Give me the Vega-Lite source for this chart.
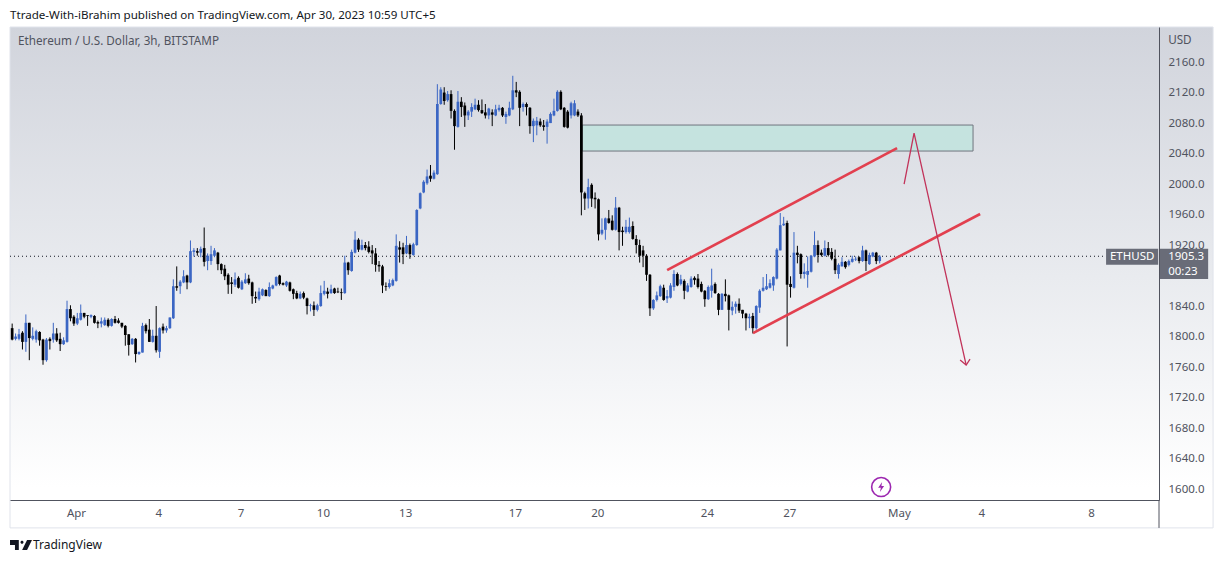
{"$schema":"https://vega.github.io/schema/vega-lite/v6.json","width":1149,"height":473,"autosize":{"type":"none"},"padding":{"left":10,"top":27,"right":64,"bottom":63},"background":"#ffffff",
"title":{"text":"Ttrade-With-iBrahim published on TradingView.com, Apr 30, 2023 10:59 UTC+5","anchor":"start","frame":"group","offset":-1,"baseline":"middle","fontSize":11.6,"font":"Noto Sans","fontWeight":"normal","color":"#131722"},
"config":{"view":{"stroke":null},"font":"Noto Sans"},
"datasets":{"candles":[
{"t":"2023-03-29T15:00Z","o":1811,"h":1817,"l":1795,"c":1796},{"t":"2023-03-29T18:00Z","o":1797,"h":1804,"l":1795,"c":1800},{"t":"2023-03-29T21:00Z","o":1797,"h":1810,"l":1795,"c":1803},
{"t":"2023-03-30T00:00Z","o":1805,"h":1807,"l":1783,"c":1793},{"t":"2023-03-30T03:00Z","o":1793,"h":1829,"l":1780,"c":1818},{"t":"2023-03-30T06:00Z","o":1818,"h":1818,"l":1769,"c":1798},{"t":"2023-03-30T09:00Z","o":1797,"h":1812,"l":1795,"c":1801},{"t":"2023-03-30T12:00Z","o":1796,"h":1809,"l":1792,"c":1807},{"t":"2023-03-30T15:00Z","o":1806,"h":1807,"l":1788,"c":1795},{"t":"2023-03-30T18:00Z","o":1796,"h":1797,"l":1763,"c":1769},{"t":"2023-03-30T21:00Z","o":1769,"h":1798,"l":1767,"c":1796},
{"t":"2023-03-31T00:00Z","o":1797,"h":1799,"l":1783,"c":1794},{"t":"2023-03-31T03:00Z","o":1796,"h":1818,"l":1792,"c":1804},{"t":"2023-03-31T06:00Z","o":1804,"h":1811,"l":1793,"c":1795},{"t":"2023-03-31T09:00Z","o":1797,"h":1805,"l":1781,"c":1790},{"t":"2023-03-31T12:00Z","o":1790,"h":1799,"l":1789,"c":1795},{"t":"2023-03-31T15:00Z","o":1793,"h":1847,"l":1792,"c":1836},{"t":"2023-03-31T18:00Z","o":1836,"h":1841,"l":1820,"c":1824},{"t":"2023-03-31T21:00Z","o":1826,"h":1828,"l":1814,"c":1817},
{"t":"2023-04-01T00:00Z","o":1817,"h":1831,"l":1815,"c":1824},{"t":"2023-04-01T03:00Z","o":1822,"h":1842,"l":1821,"c":1831},{"t":"2023-04-01T06:00Z","o":1831,"h":1831,"l":1824,"c":1826},{"t":"2023-04-01T09:00Z","o":1828,"h":1828,"l":1814,"c":1827},{"t":"2023-04-01T12:00Z","o":1826,"h":1829,"l":1824,"c":1828},{"t":"2023-04-01T15:00Z","o":1827,"h":1828,"l":1817,"c":1818},{"t":"2023-04-01T18:00Z","o":1819,"h":1821,"l":1811,"c":1817},{"t":"2023-04-01T21:00Z","o":1817,"h":1825,"l":1812,"c":1820},
{"t":"2023-04-02T00:00Z","o":1815,"h":1825,"l":1814,"c":1822},{"t":"2023-04-02T03:00Z","o":1822,"h":1824,"l":1812,"c":1814},{"t":"2023-04-02T06:00Z","o":1814,"h":1824,"l":1813,"c":1823},{"t":"2023-04-02T09:00Z","o":1823,"h":1827,"l":1817,"c":1818},{"t":"2023-04-02T12:00Z","o":1821,"h":1824,"l":1817,"c":1818},{"t":"2023-04-02T15:00Z","o":1818,"h":1818,"l":1811,"c":1813},{"t":"2023-04-02T18:00Z","o":1814,"h":1815,"l":1788,"c":1802},{"t":"2023-04-02T21:00Z","o":1803,"h":1803,"l":1775,"c":1789},
{"t":"2023-04-03T00:00Z","o":1790,"h":1798,"l":1789,"c":1797},{"t":"2023-04-03T03:00Z","o":1797,"h":1798,"l":1766,"c":1777},{"t":"2023-04-03T06:00Z","o":1777,"h":1780,"l":1776,"c":1780},{"t":"2023-04-03T09:00Z","o":1779,"h":1818,"l":1779,"c":1814},{"t":"2023-04-03T12:00Z","o":1815,"h":1817,"l":1804,"c":1807},{"t":"2023-04-03T15:00Z","o":1809,"h":1823,"l":1793,"c":1793},{"t":"2023-04-03T18:00Z","o":1793,"h":1809,"l":1792,"c":1801},{"t":"2023-04-03T21:00Z","o":1801,"h":1840,"l":1779,"c":1782},
{"t":"2023-04-04T00:00Z","o":1780,"h":1812,"l":1772,"c":1811},{"t":"2023-04-04T03:00Z","o":1813,"h":1817,"l":1804,"c":1808},{"t":"2023-04-04T06:00Z","o":1808,"h":1814,"l":1805,"c":1811},{"t":"2023-04-04T09:00Z","o":1811,"h":1825,"l":1810,"c":1825},{"t":"2023-04-04T12:00Z","o":1824,"h":1875,"l":1823,"c":1866},{"t":"2023-04-04T15:00Z","o":1866,"h":1892,"l":1860,"c":1864},{"t":"2023-04-04T18:00Z","o":1866,"h":1874,"l":1856,"c":1872},{"t":"2023-04-04T21:00Z","o":1871,"h":1887,"l":1870,"c":1879},
{"t":"2023-04-05T00:00Z","o":1880,"h":1881,"l":1862,"c":1871},{"t":"2023-04-05T03:00Z","o":1871,"h":1926,"l":1870,"c":1912},{"t":"2023-04-05T06:00Z","o":1911,"h":1916,"l":1905,"c":1913},{"t":"2023-04-05T09:00Z","o":1912,"h":1916,"l":1906,"c":1910},{"t":"2023-04-05T12:00Z","o":1910,"h":1918,"l":1904,"c":1915},{"t":"2023-04-05T15:00Z","o":1916,"h":1943,"l":1892,"c":1898},{"t":"2023-04-05T18:00Z","o":1899,"h":1909,"l":1887,"c":1906},{"t":"2023-04-05T21:00Z","o":1899,"h":1919,"l":1894,"c":1908},
{"t":"2023-04-06T00:00Z","o":1906,"h":1916,"l":1904,"c":1913},{"t":"2023-04-06T03:00Z","o":1910,"h":1911,"l":1887,"c":1895},{"t":"2023-04-06T06:00Z","o":1895,"h":1896,"l":1882,"c":1887},{"t":"2023-04-06T09:00Z","o":1889,"h":1894,"l":1874,"c":1879},{"t":"2023-04-06T12:00Z","o":1881,"h":1883,"l":1856,"c":1868},{"t":"2023-04-06T15:00Z","o":1871,"h":1878,"l":1856,"c":1869},{"t":"2023-04-06T18:00Z","o":1868,"h":1884,"l":1865,"c":1875},{"t":"2023-04-06T21:00Z","o":1877,"h":1879,"l":1863,"c":1864},
{"t":"2023-04-07T00:00Z","o":1862,"h":1874,"l":1861,"c":1872},{"t":"2023-04-07T03:00Z","o":1870,"h":1883,"l":1869,"c":1875},{"t":"2023-04-07T06:00Z","o":1876,"h":1881,"l":1868,"c":1870},{"t":"2023-04-07T09:00Z","o":1871,"h":1872,"l":1843,"c":1853},{"t":"2023-04-07T12:00Z","o":1852,"h":1859,"l":1844,"c":1850},{"t":"2023-04-07T15:00Z","o":1849,"h":1864,"l":1847,"c":1859},{"t":"2023-04-07T18:00Z","o":1854,"h":1863,"l":1853,"c":1862},{"t":"2023-04-07T21:00Z","o":1861,"h":1862,"l":1853,"c":1853},
{"t":"2023-04-08T00:00Z","o":1853,"h":1871,"l":1852,"c":1865},{"t":"2023-04-08T03:00Z","o":1863,"h":1868,"l":1862,"c":1867},{"t":"2023-04-08T06:00Z","o":1867,"h":1879,"l":1866,"c":1878},{"t":"2023-04-08T09:00Z","o":1880,"h":1881,"l":1867,"c":1869},{"t":"2023-04-08T12:00Z","o":1870,"h":1871,"l":1867,"c":1868},{"t":"2023-04-08T15:00Z","o":1867,"h":1873,"l":1865,"c":1872},{"t":"2023-04-08T18:00Z","o":1871,"h":1872,"l":1859,"c":1860},{"t":"2023-04-08T21:00Z","o":1862,"h":1863,"l":1849,"c":1856},
{"t":"2023-04-09T00:00Z","o":1857,"h":1860,"l":1849,"c":1850},{"t":"2023-04-09T03:00Z","o":1850,"h":1859,"l":1849,"c":1856},{"t":"2023-04-09T06:00Z","o":1857,"h":1859,"l":1849,"c":1851},{"t":"2023-04-09T09:00Z","o":1850,"h":1851,"l":1829,"c":1840},{"t":"2023-04-09T12:00Z","o":1840,"h":1843,"l":1833,"c":1841},{"t":"2023-04-09T15:00Z","o":1841,"h":1846,"l":1827,"c":1835},{"t":"2023-04-09T18:00Z","o":1835,"h":1843,"l":1833,"c":1841},{"t":"2023-04-09T21:00Z","o":1840,"h":1867,"l":1839,"c":1857},
{"t":"2023-04-10T00:00Z","o":1856,"h":1873,"l":1854,"c":1860},{"t":"2023-04-10T03:00Z","o":1859,"h":1864,"l":1850,"c":1856},{"t":"2023-04-10T06:00Z","o":1857,"h":1868,"l":1856,"c":1862},{"t":"2023-04-10T09:00Z","o":1863,"h":1864,"l":1856,"c":1857},{"t":"2023-04-10T12:00Z","o":1859,"h":1864,"l":1857,"c":1858},{"t":"2023-04-10T15:00Z","o":1858,"h":1863,"l":1848,"c":1857},{"t":"2023-04-10T18:00Z","o":1857,"h":1906,"l":1856,"c":1897},{"t":"2023-04-10T21:00Z","o":1897,"h":1898,"l":1881,"c":1887},
{"t":"2023-04-11T00:00Z","o":1886,"h":1914,"l":1885,"c":1911},{"t":"2023-04-11T03:00Z","o":1910,"h":1938,"l":1909,"c":1927},{"t":"2023-04-11T06:00Z","o":1927,"h":1929,"l":1911,"c":1914},{"t":"2023-04-11T09:00Z","o":1914,"h":1927,"l":1913,"c":1920},{"t":"2023-04-11T12:00Z","o":1920,"h":1924,"l":1913,"c":1916},{"t":"2023-04-11T15:00Z","o":1918,"h":1925,"l":1909,"c":1911},{"t":"2023-04-11T18:00Z","o":1913,"h":1920,"l":1895,"c":1909},{"t":"2023-04-11T21:00Z","o":1909,"h":1916,"l":1885,"c":1894},
{"t":"2023-04-12T00:00Z","o":1894,"h":1899,"l":1885,"c":1892},{"t":"2023-04-12T03:00Z","o":1892,"h":1894,"l":1857,"c":1867},{"t":"2023-04-12T06:00Z","o":1866,"h":1871,"l":1860,"c":1865},{"t":"2023-04-12T09:00Z","o":1865,"h":1875,"l":1863,"c":1870},{"t":"2023-04-12T12:00Z","o":1867,"h":1876,"l":1866,"c":1874},{"t":"2023-04-12T15:00Z","o":1873,"h":1934,"l":1872,"c":1919},{"t":"2023-04-12T18:00Z","o":1917,"h":1925,"l":1897,"c":1914},{"t":"2023-04-12T21:00Z","o":1917,"h":1923,"l":1895,"c":1908},
{"t":"2023-04-13T00:00Z","o":1909,"h":1932,"l":1908,"c":1920},{"t":"2023-04-13T03:00Z","o":1920,"h":1922,"l":1902,"c":1908},{"t":"2023-04-13T06:00Z","o":1907,"h":1923,"l":1906,"c":1921},{"t":"2023-04-13T09:00Z","o":1920,"h":1967,"l":1919,"c":1966},{"t":"2023-04-13T12:00Z","o":1968,"h":1989,"l":1967,"c":1988},{"t":"2023-04-13T15:00Z","o":1989,"h":2005,"l":1988,"c":2003},{"t":"2023-04-13T18:00Z","o":2001,"h":2019,"l":1999,"c":2010},{"t":"2023-04-13T21:00Z","o":2011,"h":2025,"l":2003,"c":2007},
{"t":"2023-04-14T00:00Z","o":2007,"h":2018,"l":2006,"c":2015},{"t":"2023-04-14T03:00Z","o":2013,"h":2131,"l":2012,"c":2105},{"t":"2023-04-14T06:00Z","o":2105,"h":2127,"l":2104,"c":2124},{"t":"2023-04-14T09:00Z","o":2120,"h":2127,"l":2104,"c":2109},{"t":"2023-04-14T12:00Z","o":2110,"h":2122,"l":2108,"c":2118},{"t":"2023-04-14T15:00Z","o":2118,"h":2123,"l":2086,"c":2096},{"t":"2023-04-14T18:00Z","o":2096,"h":2098,"l":2045,"c":2076},{"t":"2023-04-14T21:00Z","o":2075,"h":2122,"l":2074,"c":2108},
{"t":"2023-04-15T00:00Z","o":2108,"h":2114,"l":2088,"c":2101},{"t":"2023-04-15T03:00Z","o":2103,"h":2107,"l":2075,"c":2090},{"t":"2023-04-15T06:00Z","o":2090,"h":2097,"l":2084,"c":2095},{"t":"2023-04-15T09:00Z","o":2095,"h":2106,"l":2088,"c":2101},{"t":"2023-04-15T12:00Z","o":2098,"h":2112,"l":2097,"c":2104},{"t":"2023-04-15T15:00Z","o":2104,"h":2110,"l":2095,"c":2097},{"t":"2023-04-15T18:00Z","o":2097,"h":2111,"l":2092,"c":2093},{"t":"2023-04-15T21:00Z","o":2094,"h":2105,"l":2086,"c":2090},
{"t":"2023-04-16T00:00Z","o":2090,"h":2100,"l":2085,"c":2099},{"t":"2023-04-16T03:00Z","o":2094,"h":2098,"l":2076,"c":2091},{"t":"2023-04-16T06:00Z","o":2090,"h":2104,"l":2089,"c":2098},{"t":"2023-04-16T09:00Z","o":2097,"h":2104,"l":2095,"c":2100},{"t":"2023-04-16T12:00Z","o":2100,"h":2101,"l":2088,"c":2090},{"t":"2023-04-16T15:00Z","o":2088,"h":2095,"l":2079,"c":2092},{"t":"2023-04-16T18:00Z","o":2090,"h":2108,"l":2089,"c":2100},{"t":"2023-04-16T21:00Z","o":2098,"h":2142,"l":2097,"c":2123},
{"t":"2023-04-17T00:00Z","o":2123,"h":2134,"l":2114,"c":2120},{"t":"2023-04-17T03:00Z","o":2121,"h":2123,"l":2076,"c":2100},{"t":"2023-04-17T06:00Z","o":2101,"h":2107,"l":2095,"c":2105},{"t":"2023-04-17T09:00Z","o":2105,"h":2107,"l":2090,"c":2101},{"t":"2023-04-17T12:00Z","o":2100,"h":2101,"l":2066,"c":2076},{"t":"2023-04-17T15:00Z","o":2076,"h":2086,"l":2055,"c":2083},{"t":"2023-04-17T18:00Z","o":2077,"h":2088,"l":2064,"c":2083},{"t":"2023-04-17T21:00Z","o":2082,"h":2086,"l":2075,"c":2077},
{"t":"2023-04-18T00:00Z","o":2077,"h":2084,"l":2070,"c":2075},{"t":"2023-04-18T03:00Z","o":2075,"h":2085,"l":2053,"c":2082},{"t":"2023-04-18T06:00Z","o":2080,"h":2094,"l":2080,"c":2092},{"t":"2023-04-18T09:00Z","o":2090,"h":2112,"l":2089,"c":2096},{"t":"2023-04-18T12:00Z","o":2096,"h":2123,"l":2095,"c":2121},{"t":"2023-04-18T15:00Z","o":2121,"h":2123,"l":2097,"c":2098},{"t":"2023-04-18T18:00Z","o":2100,"h":2101,"l":2074,"c":2075},{"t":"2023-04-18T21:00Z","o":2095,"h":2097,"l":2073,"c":2074},
{"t":"2023-04-19T00:00Z","o":2090,"h":2108,"l":2086,"c":2106},{"t":"2023-04-19T03:00Z","o":2090,"h":2110,"l":2089,"c":2106},{"t":"2023-04-19T06:00Z","o":2095,"h":2098,"l":2088,"c":2090},{"t":"2023-04-19T09:00Z","o":2090,"h":2093,"l":1959,"c":1989},{"t":"2023-04-19T12:00Z","o":1988,"h":1990,"l":1966,"c":1981},{"t":"2023-04-19T15:00Z","o":1981,"h":2007,"l":1968,"c":1996},{"t":"2023-04-19T18:00Z","o":1999,"h":2001,"l":1970,"c":1981},{"t":"2023-04-19T21:00Z","o":1982,"h":1989,"l":1968,"c":1980},
{"t":"2023-04-20T00:00Z","o":1980,"h":1981,"l":1926,"c":1934},{"t":"2023-04-20T03:00Z","o":1935,"h":1955,"l":1933,"c":1940},{"t":"2023-04-20T06:00Z","o":1940,"h":1956,"l":1927,"c":1955},{"t":"2023-04-20T09:00Z","o":1955,"h":1966,"l":1948,"c":1949},{"t":"2023-04-20T12:00Z","o":1952,"h":1959,"l":1939,"c":1940},{"t":"2023-04-20T15:00Z","o":1940,"h":1983,"l":1939,"c":1969},{"t":"2023-04-20T18:00Z","o":1969,"h":1970,"l":1913,"c":1937},{"t":"2023-04-20T21:00Z","o":1939,"h":1944,"l":1919,"c":1937},
{"t":"2023-04-21T00:00Z","o":1937,"h":1953,"l":1935,"c":1944},{"t":"2023-04-21T03:00Z","o":1937,"h":1956,"l":1935,"c":1944},{"t":"2023-04-21T06:00Z","o":1945,"h":1951,"l":1927,"c":1928},{"t":"2023-04-21T09:00Z","o":1928,"h":1933,"l":1909,"c":1920},{"t":"2023-04-21T12:00Z","o":1920,"h":1927,"l":1897,"c":1906},{"t":"2023-04-21T15:00Z","o":1913,"h":1919,"l":1891,"c":1906},{"t":"2023-04-21T18:00Z","o":1906,"h":1908,"l":1873,"c":1881},{"t":"2023-04-21T21:00Z","o":1881,"h":1882,"l":1827,"c":1837},
{"t":"2023-04-22T00:00Z","o":1837,"h":1849,"l":1835,"c":1848},{"t":"2023-04-22T03:00Z","o":1848,"h":1859,"l":1846,"c":1854},{"t":"2023-04-22T06:00Z","o":1853,"h":1868,"l":1852,"c":1866},{"t":"2023-04-22T09:00Z","o":1864,"h":1868,"l":1847,"c":1848},{"t":"2023-04-22T12:00Z","o":1850,"h":1861,"l":1844,"c":1853},{"t":"2023-04-22T15:00Z","o":1851,"h":1870,"l":1850,"c":1867},{"t":"2023-04-22T18:00Z","o":1865,"h":1887,"l":1860,"c":1882},{"t":"2023-04-22T21:00Z","o":1882,"h":1884,"l":1866,"c":1867},
{"t":"2023-04-23T00:00Z","o":1869,"h":1881,"l":1867,"c":1875},{"t":"2023-04-23T03:00Z","o":1873,"h":1875,"l":1849,"c":1860},{"t":"2023-04-23T06:00Z","o":1859,"h":1870,"l":1858,"c":1867},{"t":"2023-04-23T09:00Z","o":1865,"h":1879,"l":1864,"c":1876},{"t":"2023-04-23T12:00Z","o":1877,"h":1879,"l":1868,"c":1874},{"t":"2023-04-23T15:00Z","o":1876,"h":1882,"l":1863,"c":1865},{"t":"2023-04-23T18:00Z","o":1869,"h":1872,"l":1858,"c":1859},{"t":"2023-04-23T21:00Z","o":1860,"h":1861,"l":1839,"c":1849},
{"t":"2023-04-24T00:00Z","o":1849,"h":1867,"l":1848,"c":1865},{"t":"2023-04-24T03:00Z","o":1860,"h":1889,"l":1851,"c":1867},{"t":"2023-04-24T06:00Z","o":1869,"h":1871,"l":1856,"c":1857},{"t":"2023-04-24T09:00Z","o":1856,"h":1857,"l":1828,"c":1835},{"t":"2023-04-24T12:00Z","o":1835,"h":1857,"l":1835,"c":1856},{"t":"2023-04-24T15:00Z","o":1856,"h":1875,"l":1846,"c":1853},{"t":"2023-04-24T18:00Z","o":1854,"h":1855,"l":1808,"c":1835},{"t":"2023-04-24T21:00Z","o":1834,"h":1846,"l":1828,"c":1839},
{"t":"2023-04-25T00:00Z","o":1839,"h":1846,"l":1830,"c":1843},{"t":"2023-04-25T03:00Z","o":1843,"h":1850,"l":1831,"c":1834},{"t":"2023-04-25T06:00Z","o":1835,"h":1835,"l":1824,"c":1830},{"t":"2023-04-25T09:00Z","o":1830,"h":1831,"l":1808,"c":1824},{"t":"2023-04-25T12:00Z","o":1824,"h":1830,"l":1811,"c":1826},{"t":"2023-04-25T15:00Z","o":1827,"h":1831,"l":1804,"c":1811},{"t":"2023-04-25T18:00Z","o":1811,"h":1841,"l":1809,"c":1840},{"t":"2023-04-25T21:00Z","o":1838,"h":1862,"l":1831,"c":1860},
{"t":"2023-04-26T00:00Z","o":1860,"h":1878,"l":1859,"c":1864},{"t":"2023-04-26T03:00Z","o":1862,"h":1882,"l":1861,"c":1866},{"t":"2023-04-26T06:00Z","o":1864,"h":1875,"l":1863,"c":1870},{"t":"2023-04-26T09:00Z","o":1867,"h":1879,"l":1860,"c":1878},{"t":"2023-04-26T12:00Z","o":1876,"h":1916,"l":1875,"c":1914},{"t":"2023-04-26T15:00Z","o":1913,"h":1962,"l":1913,"c":1946},{"t":"2023-04-26T18:00Z","o":1946,"h":1957,"l":1945,"c":1948},{"t":"2023-04-26T21:00Z","o":1949,"h":1952,"l":1787,"c":1868},
{"t":"2023-04-27T00:00Z","o":1869,"h":1879,"l":1851,"c":1865},{"t":"2023-04-27T03:00Z","o":1864,"h":1937,"l":1863,"c":1910},{"t":"2023-04-27T06:00Z","o":1910,"h":1919,"l":1896,"c":1907},{"t":"2023-04-27T09:00Z","o":1908,"h":1909,"l":1876,"c":1882},{"t":"2023-04-27T12:00Z","o":1882,"h":1896,"l":1876,"c":1885},{"t":"2023-04-27T15:00Z","o":1881,"h":1905,"l":1864,"c":1886},{"t":"2023-04-27T18:00Z","o":1885,"h":1907,"l":1884,"c":1906},{"t":"2023-04-27T21:00Z","o":1905,"h":1938,"l":1904,"c":1920},
{"t":"2023-04-28T00:00Z","o":1920,"h":1926,"l":1897,"c":1907},{"t":"2023-04-28T03:00Z","o":1910,"h":1914,"l":1905,"c":1907},{"t":"2023-04-28T06:00Z","o":1906,"h":1926,"l":1905,"c":1916},{"t":"2023-04-28T09:00Z","o":1916,"h":1924,"l":1905,"c":1907},{"t":"2023-04-28T12:00Z","o":1911,"h":1916,"l":1900,"c":1902},{"t":"2023-04-28T15:00Z","o":1902,"h":1914,"l":1882,"c":1887},{"t":"2023-04-28T18:00Z","o":1882,"h":1896,"l":1876,"c":1894},{"t":"2023-04-28T21:00Z","o":1892,"h":1904,"l":1892,"c":1898},
{"t":"2023-04-29T00:00Z","o":1898,"h":1899,"l":1889,"c":1891},{"t":"2023-04-29T03:00Z","o":1894,"h":1901,"l":1892,"c":1899},{"t":"2023-04-29T06:00Z","o":1898,"h":1906,"l":1897,"c":1902},{"t":"2023-04-29T09:00Z","o":1901,"h":1905,"l":1899,"c":1902},{"t":"2023-04-29T12:00Z","o":1904,"h":1905,"l":1896,"c":1899},{"t":"2023-04-29T15:00Z","o":1899,"h":1919,"l":1898,"c":1913},{"t":"2023-04-29T18:00Z","o":1913,"h":1914,"l":1886,"c":1899},{"t":"2023-04-29T21:00Z","o":1895,"h":1910,"l":1894,"c":1907},
{"t":"2023-04-30T00:00Z","o":1905,"h":1911,"l":1904,"c":1910},{"t":"2023-04-30T03:00Z","o":1910,"h":1911,"l":1895,"c":1899},{"t":"2023-04-30T06:00Z","o":1899,"h":1907,"l":1896,"c":1905}
]},
"encoding":{
"x":{"field":"t","type":"temporal","scale":{"type":"utc","padding":0,"domain":["2023-03-29T14:15:00Z","2023-05-10T11:30:00Z"]},"axis":{"title":null,"zindex":1,"grid":false,"ticks":false,"domainColor":"#50535e","domainWidth":1,"labelColor":"#50535e","labelFont":"Noto Sans","labelFontSize":11.5,"labelPadding":7,"labelFlush":false,"labelOverlap":false,"labelAngle":0,"values":["2023-04-01T00:00:00Z","2023-04-04T00:00:00Z","2023-04-07T00:00:00Z","2023-04-10T00:00:00Z","2023-04-13T00:00:00Z","2023-04-17T00:00:00Z","2023-04-20T00:00:00Z","2023-04-24T00:00:00Z","2023-04-27T00:00:00Z","2023-05-01T00:00:00Z","2023-05-04T00:00:00Z","2023-05-08T00:00:00Z"],"labelExpr":"utcFormat(datum.value,'%d')=='01' ? utcFormat(datum.value,'%b') : utcFormat(datum.value,'%-d')"}},
"y":{"field":"p","type":"quantitative","scale":{"domain":[1585.6,2206],"nice":false,"zero":false},"axis":{"title":null,"orient":"right","zindex":1,"grid":false,"ticks":false,"domainColor":"#50535e","domainWidth":1,"labelColor":"#50535e","labelFont":"Noto Sans","labelFontSize":11.5,"labelPadding":9,"labelOverlap":false,"labelFlush":false,"format":".1f","values":[1600,1640,1680,1720,1760,1800,1840,1920,1960,2000,2040,2080,2120,2160]}}
},
"layer":[
{"data":{"values":[{"t":"2023-03-29T14:15Z","t2":"2023-05-12T10:48Z","p":2206,"p2":1549}]},"mark":{"type":"rect","stroke":"#e0e3eb","strokeWidth":1,"fill":{"gradient":"linear","x1":0,"y1":0,"x2":0,"y2":1,"stops":[{"offset":0,"color":"#d1d4dc"},{"offset":0.5,"color":"#e9ebef"},{"offset":0.92,"color":"#ffffff"},{"offset":1,"color":"#ffffff"}]}},"encoding":{"x2":{"field":"t2"},"y2":{"field":"p2"}}},
{"data":{"values":[{"t":"2023-05-10T11:30Z","p":1585.6,"p2":1549}]},"mark":{"type":"rule","color":"#50535e","strokeWidth":1},"encoding":{"y2":{"field":"p2"}}},
{"data":{"values":[{"t":"2023-04-19T10:48Z","t2":"2023-05-03T16:48Z","p":2077.4,"p2":2043.3}]},"mark":{"type":"rect","fill":"#c5e3df","stroke":"#70757f","strokeWidth":1},"encoding":{"x2":{"field":"t2"},"y2":{"field":"p2"}}},
{"data":{"values":[{"t":"2023-03-29T14:15Z","t2":"2023-05-08T13:12Z","p":1905.3}]},"mark":{"type":"rule","color":"#131722","strokeWidth":1,"strokeDash":[1,3]},"encoding":{"x2":{"field":"t2"}}},
{"data":{"name":"candles"},"mark":{"type":"rule","strokeWidth":1,"xOffset":1.3},"encoding":{"y":{"field":"h","type":"quantitative"},"y2":{"field":"l"},"color":{"condition":{"test":"datum.c>=datum.o","value":"#3b66c4"},"value":"#000000"}}},
{"data":{"name":"candles"},"mark":{"type":"bar","size":2.7,"xOffset":1.3},"encoding":{"y":{"field":"o","type":"quantitative"},"y2":{"field":"c"},"color":{"condition":{"test":"datum.c>=datum.o","value":"#3b66c4"},"value":"#000000"}}},
{"data":{"values":[{"s":"a","n":1,"t":"2023-04-22T13:10Z","p":1887.2},{"s":"a","n":2,"t":"2023-04-30T22:20Z","p":2047.2},{"s":"b","n":1,"t":"2023-04-25T16:20Z","p":1804.6},{"s":"b","n":2,"t":"2023-05-03T23:00Z","p":1960.7}]},"mark":{"type":"line","color":"#e2404f","strokeWidth":2.6},"encoding":{"detail":{"field":"s"},"order":{"field":"n"}}},
{"data":{"values":[{"s":"c","n":1,"t":"2023-05-01T04:30Z","p":2000},{"s":"c","n":2,"t":"2023-05-01T13:12Z","p":2066.9},{"s":"c","n":3,"t":"2023-05-03T10:48Z","p":1762.6},{"s":"d","n":1,"t":"2023-05-03T05:30Z","p":1769.2},{"s":"d","n":2,"t":"2023-05-03T10:48Z","p":1762.6},{"s":"d","n":3,"t":"2023-05-03T14:10Z","p":1770.5}]},"mark":{"type":"line","color":"#c2335a","strokeWidth":1.3},"encoding":{"detail":{"field":"s"},"order":{"field":"n"}}},
{"data":{"values":[{"t":"2023-05-08T13:12Z","t2":"2023-05-10T10:48Z","p":1915,"p2":1894},{"t":"2023-05-10T11:30Z","t2":"2023-05-12T06:30Z","p":1915,"p2":1875.5}]},"mark":{"type":"rect","fill":"#696c78"},"encoding":{"x2":{"field":"t2"},"y2":{"field":"p2"}}},
{"data":{"values":[{"t":"2023-05-09T12:00Z","p":1904,"label":"ETHUSD"}]},"mark":{"type":"text","align":"center","baseline":"middle","color":"#ffffff","fontSize":11.5,"font":"Noto Sans"},"encoding":{"text":{"field":"label"}}},
{"data":{"values":[{"t":"2023-05-10T19:30Z","p":1904,"label":"1905.3"},{"t":"2023-05-10T19:30Z","p":1884.5,"label":"00:23"}]},"mark":{"type":"text","align":"left","baseline":"middle","color":"#ffffff","fontSize":11.5,"font":"Noto Sans"},"encoding":{"text":{"field":"label"}}},
{"data":{"values":[{"t":"2023-03-29T21:15Z","p":2187.6,"label":"Ethereum / U.S. Dollar, 3h, BITSTAMP"},{"t":"2023-05-10T19:30Z","p":2188.9,"label":"USD"}]},"mark":{"type":"text","align":"left","baseline":"middle","color":"#50535e","fontSize":11.7,"font":"Noto Sans"},"encoding":{"text":{"field":"label"}}},
{"data":{"values":[{"t":"2023-03-30T10:20Z","p":1526.6,"label":"TradingView"}]},"mark":{"type":"text","align":"left","baseline":"middle","color":"#131722","fontSize":12,"font":"Noto Sans"},"encoding":{"text":{"field":"label"}}},
{"data":{"values":[{"t":"2023-03-29T23:53Z","p":1526.6}]},"mark":{"type":"point","filled":true,"color":"#131722","opacity":1,"size":484,"shape":"M-1,-0.45H-0.2V0.45H-0.55V0H-1ZM0.55,-0.45H1L0.55,0.45H0.1ZM-0.05,-0.25A0.14,0.14 0 1 0 0.23,-0.25A0.14,0.14 0 1 0 -0.05,-0.25Z"}},
{"data":{"values":[{"t":"2023-04-30T08:24Z","p":1602.6}]},"mark":{"type":"point","filled":false,"fill":"#ffffff","fillOpacity":1,"stroke":"#9c27b0","strokeWidth":1.6,"opacity":1,"size":361,"shape":"circle"}},
{"data":{"values":[{"t":"2023-04-30T08:24Z","p":1602.6}]},"mark":{"type":"point","filled":true,"color":"#9c27b0","opacity":1,"size":100,"shape":"M0.2,-1L-0.6,0.15H-0.05L-0.25,1L0.6,-0.2H0.05Z"}}
]}
